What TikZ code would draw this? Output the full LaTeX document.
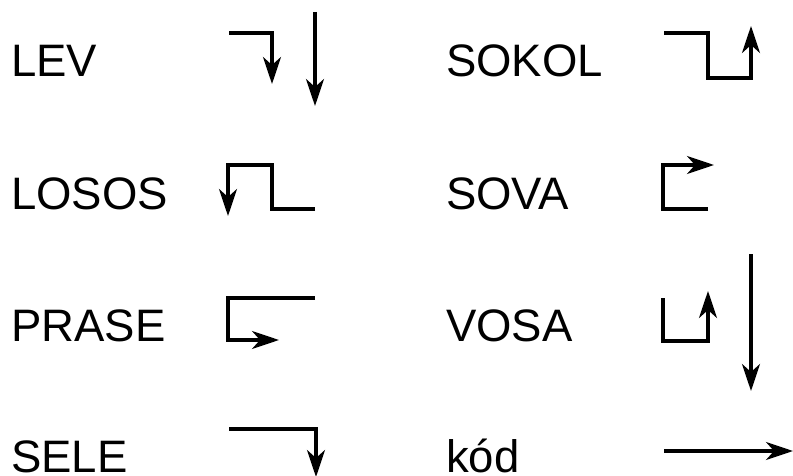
\documentclass[tikz,border=0pt]{standalone}
\usepackage{fontspec}
\setmainfont{Liberation Sans}
\usetikzlibrary{arrows.meta}
\begin{document}
\begin{tikzpicture}[x=1pt,y=-1pt,
  word/.style={anchor=base west,inner sep=0pt,text depth=0pt,font=\fontsize{45.5}{50}\selectfont},
  ln/.style={line width=3.2pt,line join=miter,line cap=butt},
  arr/.style={ln,-{Stealth[length=27pt,width=18pt,inset=8pt]}}]
\useasboundingbox (0,0) rectangle (793,476);
% labels
\node[word] (lev) at (11,77) {LEV};
\node[word] (losos) at (11,209) {LOSOS};
\node[word] (prase) at (11,341) {PRASE};
\node[word] (sele) at (11,472) {SELE};
\node[word] (sokol) at (446,77) {SOKOL};
\node[word] (sova) at (446,209) {SOVA};
\node[word] (vosa) at (446,341) {VOSA};
\node[word] (kod) at (446,472) {kód};
% LEV
\draw[arr] (229,33) -- (272,33) -- (272,84);
\draw[arr] (315,12) -- (315,106);
% LOSOS
\draw[arr] (315,209) -- (272,209) -- (272,165) -- (228,165) -- (228,216);
% PRASE
\draw[arr] (315,298) -- (228,298) -- (228,340) -- (279,340);
% SELE
\draw[arr] (229,429) -- (316,429) -- (316,477);
% SOKOL
\draw[arr] (664,33) -- (708,33) -- (708,78) -- (751,78) -- (751,26);
% SOVA
\draw[arr] (708,209) -- (663,209) -- (663,165) -- (714,165);
% VOSA
\draw[arr] (663,298) -- (663,341) -- (708,341) -- (708,291);
\draw[arr] (751,254) -- (751,391);
% kod
\draw[arr] (664,451) -- (793,451);
\end{tikzpicture}
\end{document}
